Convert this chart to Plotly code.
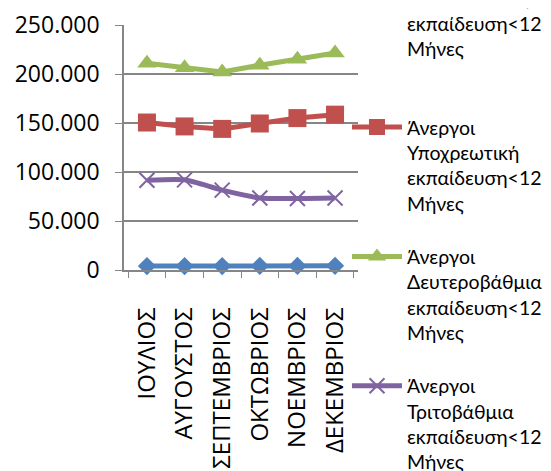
import plotly.graph_objects as go

months = ["ΙΟΥΛΙΟΣ", "ΑΥΓΟΥΣΤΟΣ", "ΣΕΠΤΕΜΒΡΙΟΣ", "ΟΚΤΩΒΡΙΟΣ", "ΝΟΕΜΒΡΙΟΣ", "ΔΕΚΕΜΒΡΙΟΣ"]
no_edu = [4000, 4000, 4000, 4200, 4200, 4300]
compulsory = [150500, 146500, 144000, 149500, 155000, 158500]
secondary = [211000, 206500, 202000, 209000, 215000, 221500]
tertiary = [91500, 92000, 81500, 73500, 73000, 73500]

names = [
    "Άνεργοι χωρίς<br>εκπαίδευση&lt;12<br>Μήνες<br> ",
    "Άνεργοι<br>Υποχρεωτική<br>εκπαίδευση&lt;12<br>Μήνες",
    "Άνεργοι<br>Δευτεροβάθμια<br>εκπαίδευση&lt;12<br>Μήνες",
    "Άνεργοι<br>Τριτοβάθμια<br>εκπαίδευση&lt;12<br>Μήνες",
]
colors = ["#4F81BD", "#C0504D", "#9BBB59", "#8064A2"]
symbols = ["diamond", "square", "triangle-up", "x-thin"]
sizes = [14, 18, 17, 15]
series = [no_edu, compulsory, secondary, tertiary]

fig = go.Figure()
for i, (vals, nm, c, s, sz) in enumerate(zip(series, names, colors, symbols, sizes)):
    line = dict(color=c, width=5)
    if i == 3:
        line.update(shape="spline", smoothing=0.6)
    marker = dict(symbol=s, size=sz, color=c)
    if s == "x-thin":
        marker.update(line=dict(color=c, width=2))
    fig.add_trace(go.Scatter(
        x=months, y=vals, name=nm, mode="lines+markers",
        line=line, marker=marker, cliponaxis=False, legendgroup=str(i),
    ))

fig.update_layout(
    width=551, height=471,
    margin=dict(l=116, r=201, t=17, b=209, autoexpand=False),
    paper_bgcolor="white", plot_bgcolor="white",
    separators=",.",
    font=dict(family="Open Sans, sans-serif", color="black", size=21),
    showlegend=True,
    legend=dict(
        xref="paper", yref="paper", x=0.953, y=1.19, xanchor="left", yanchor="top",
        font=dict(size=19.5, family="Lato, Open Sans, sans-serif", color="black"),
        valign="top", tracegroupgap=25, bgcolor="rgba(0,0,0,0)",
        maxheight=2000, itemwidth=50,
    ),
)
fig.update_xaxes(
    type="category", showline=True, linecolor="#868686", linewidth=1.5,
    ticks="outside", tickson="boundaries", ticklen=6, tickcolor="#868686",
    tickangle=-90, showgrid=False, tickfont=dict(size=24),
    ticklabelstandoff=26,
)
fig.update_yaxes(
    range=[0, 250000], tickvals=[0, 50000, 100000, 150000, 200000, 250000],
    tickformat=",", showline=True, linecolor="#868686", linewidth=1.5,
    ticks="outside", ticklen=7, tickcolor="#868686",
    showgrid=True, gridcolor="#868686", gridwidth=1.5, zeroline=False,
    tickfont=dict(size=23), ticklabelstandoff=11,
)
fig.write_html("out.html")
